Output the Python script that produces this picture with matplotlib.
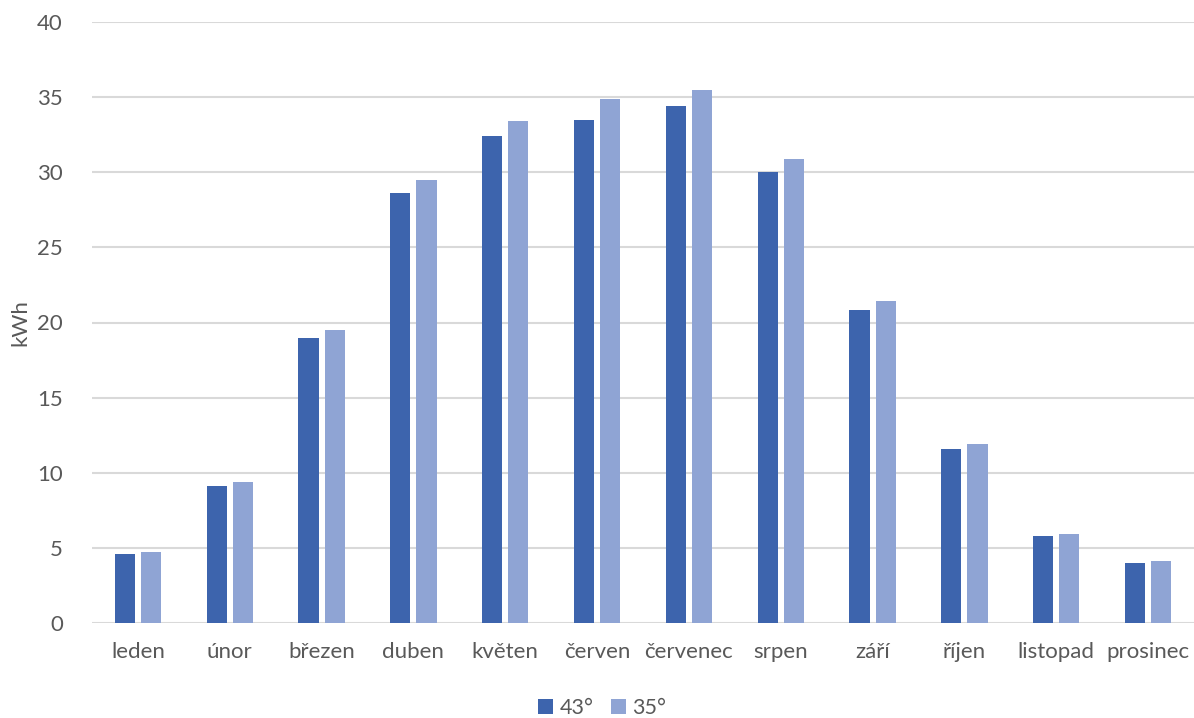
import matplotlib
matplotlib.use("Agg")
import matplotlib.pyplot as plt
import numpy as np

months = ["leden", "únor", "březen", "duben", "květen", "červen",
          "červenec", "srpen", "září", "říjen", "listopad", "prosinec"]
tilt_43 = [4.6, 9.1, 19.0, 28.6, 32.4, 33.5, 34.4, 30.0, 20.8, 11.6, 5.8, 4.0]
tilt_35 = [4.7, 9.4, 19.5, 29.5, 33.4, 34.9, 35.5, 30.9, 21.4, 11.9, 5.9, 4.1]
series_labels = ["43°", "35°"]
y_ticks = [0, 5, 10, 15, 20, 25, 30, 35, 40]

plt.rcParams["font.family"] = ["Lato", "DejaVu Sans"]
text_color = "#595959"

fig = plt.figure(figsize=(11.94, 7.18), dpi=100)
ax = fig.add_axes([92 / 1194, 1 - 623 / 718, 1 - 92 / 1194, (623 - 22) / 718])

x = np.arange(len(months))
w = 0.22
off = 0.143
ax.bar(x - off, tilt_43, width=w, color="#3D64AD", label=series_labels[0], zorder=3)
ax.bar(x + off, tilt_35, width=w, color="#8FA4D4", label=series_labels[1], zorder=3)

ax.set_xlim(-0.5, len(months) - 0.5)
ax.set_ylim(0, 40)
ax.set_yticks(y_ticks)
ax.set_xticks(x)
ax.set_xticklabels(months)
ax.grid(axis="y", color="#D9D9D9", linewidth=1.5, zorder=0)
ax.set_axisbelow(True)
for s in ax.spines.values():
    s.set_visible(False)
ax.tick_params(axis="both", length=0, labelsize=16, labelcolor=text_color)
ax.tick_params(axis="y", pad=21)
ax.tick_params(axis="x", pad=14)
ax.set_ylabel("kWh", fontsize=16, color=text_color, labelpad=5)

leg = ax.legend(loc="center", bbox_to_anchor=(0.463, -0.142), ncol=2,
                frameon=False, fontsize=15.5, handlelength=0.7, handleheight=0.7,
                handletextpad=0.3, columnspacing=0.8, labelcolor=text_color)

fig.savefig("out.png", dpi=100, facecolor="white")
